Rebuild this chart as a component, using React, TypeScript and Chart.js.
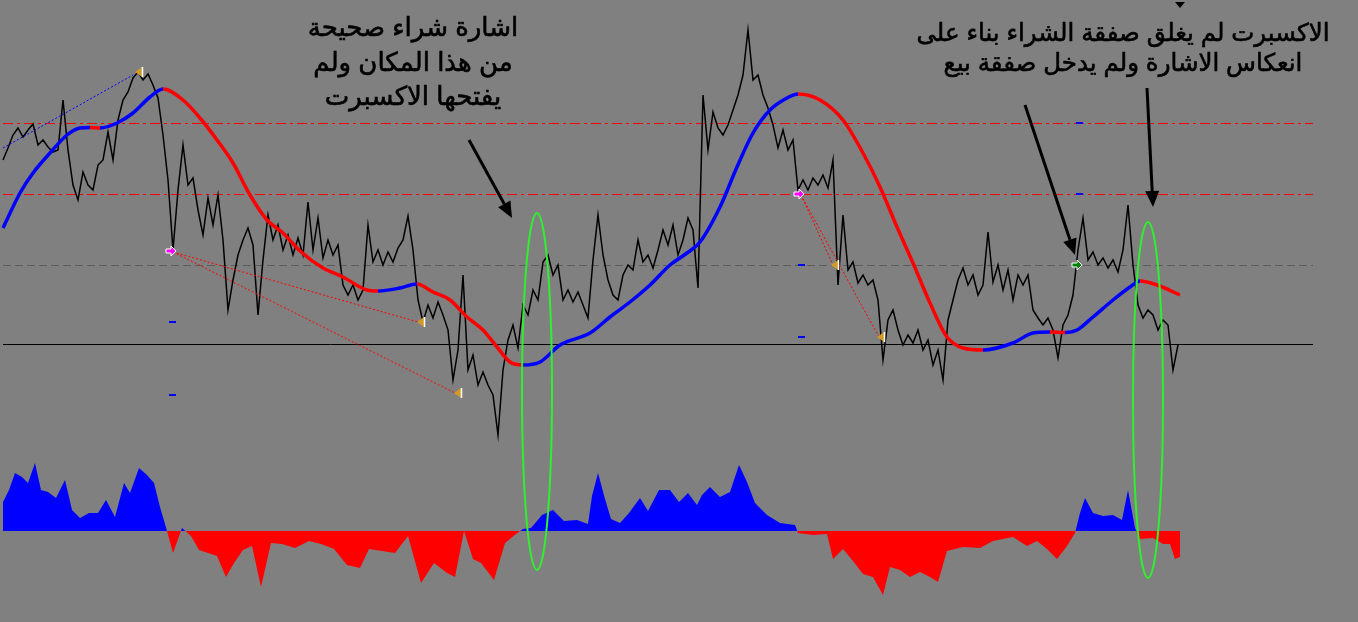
import React, { useEffect, useRef } from "react";
import { Chart, registerables } from "chart.js";

Chart.register(...registerables);

// ---------- data (bar number, price in points) ----------
const FIRST_BAR = 3;
const BAR_STEP = 5;

const closePrices = [
  840, 852, 865, 872, 863, 870, 876, 855, 860, 853, 848, 850, 900, 850, 815, 800, 828, 815, 810, 835,
  840, 868, 840, 880, 900, 908, 922, 928, 920, 926, 915, 902, 865, 820, 750, 810, 855, 815, 822, 790,
  765, 802, 775, 805, 760, 690, 720, 745, 760, 772, 755, 685, 740, 785, 760, 775, 750, 765, 745, 762,
  745, 798, 750, 782, 742, 760, 745, 755, 715, 705, 715, 700, 710, 775, 738, 750, 735, 748, 738, 752,
  760, 784, 750, 700, 678, 695, 682, 698, 685, 670, 620, 650, 725, 630, 645, 615, 628, 615, 605, 565,
  630, 660, 675, 652, 695, 685, 710, 700, 738, 745, 725, 735, 700, 710, 698, 708, 695, 682, 740, 785,
  745, 720, 705, 700, 725, 735, 730, 760, 738, 745, 732, 750, 770, 755, 775, 745, 760, 782, 770, 712,
  905, 850, 888, 872, 865, 875, 890, 905, 925, 970, 920, 925, 905, 892, 875, 852, 870, 850, 860, 810,
  820, 810, 822, 815, 825, 812, 840, 715, 785, 730, 738, 717, 725, 715, 720, 700, 640, 680, 690, 670,
  655, 665, 657, 670, 650, 660, 635, 650, 620, 680, 700, 720, 732, 715, 725, 705, 715, 768, 718, 735,
  710, 730, 700, 725, 715, 725, 690, 682, 675, 682, 670, 642, 675, 685, 705, 750, 782, 740, 748, 735,
  742, 732, 740, 728, 750, 795, 735, 695, 682, 690, 685, 670, 680, 675, 630, 655,
];

const maBars = [
  3, 20, 33, 50, 67, 80, 90, 100, 117, 133, 150, 163, 183, 200, 217, 233, 250, 267, 283, 300,
  323, 343, 367, 378, 400, 417, 433, 450, 467, 483, 497, 510, 523, 540, 560, 590, 610, 630, 650, 670,
  687, 700, 720, 737, 753, 770, 787, 798, 820, 843, 863, 880, 897, 913, 930, 947, 963, 983, 1013, 1033,
  1050, 1065, 1077, 1093, 1113, 1130, 1140, 1157, 1180,
];
const maValues = [
  772, 807, 827, 847, 865, 872, 872.5, 872, 877, 887, 903, 911, 900, 882, 860, 837, 805, 780, 767, 749,
  732, 723, 710, 709, 712, 716, 708, 700, 683, 670, 653, 638, 635, 638, 655, 667, 683, 698, 715, 735,
  747, 758, 793, 833, 867, 890, 902, 906, 900, 880, 847, 813, 773, 737, 697, 663, 652, 650, 657, 667,
  668, 667.5, 670, 683, 700, 713, 719, 715, 705,
];

const histBars = [
  3, 9, 15, 22, 28, 35, 41, 48, 56, 65, 72, 80, 89, 98, 106, 115, 124, 130, 139, 147,
  154, 160, 167, 173, 182, 191, 199, 208, 217, 226, 234, 243, 252, 261, 271, 282, 295, 309, 321, 334,
  347, 360, 369, 382, 395, 408, 421, 434, 447, 455, 464, 473, 481, 494, 505, 516, 523, 531, 542, 553,
  564, 577, 588, 592, 598, 605, 611, 620, 629, 640, 648, 659, 670, 679, 688, 697, 702, 710, 720, 730,
  739, 747, 755, 767, 780, 795, 798, 813, 827, 833, 843, 853, 863, 873, 883, 890, 900, 910, 920, 930,
  938, 947, 963, 980, 993, 1013, 1027, 1037, 1047, 1057, 1067, 1075, 1080, 1085, 1093, 1103, 1113, 1122, 1128, 1135,
  1140, 1153, 1163, 1170, 1175, 1180,
];
const histValues = [
  29, 41, 58, 54, 48, 68, 41, 39, 33, 51, 21, 13, 18, 18, 31, 14, 48, 38, 63, 56,
  48, 24, 0, -22, 3, -5, -19, -22, -25, -46, -32, -19, -15, -56, -12, -13, -17, -10, -13, -18,
  -34, -37, -18, -20, -22, -5, -52, -32, -42, -46, 0, -28, -32, -49, -12, -3, 2, 3, 16, 21,
  10, 11, 7, 35, 58, 32, 12, 8, 18, 33, 20, 41, 41, 29, 38, 26, 36, 44, 34, 39,
  66, 49, 28, 16, 8, 6, -2, -4, -3, -28, -18, -30, -43, -46, -64, -36, -39, -46, -41, -46,
  -51, -20, -16, -17, -10, -6, -15, -10, -18, -28, -15, -2, 18, 33, 18, 15, 16, 11, 41, 3,
  -8, -7, -13, -13, -28, -26,
];

const levelPrices = [876.5, 805.5, 734.5, 655.5];
const levelStyles = ["redDashDot", "redDashDot", "grayDash", "solid"];
const LEVEL_FROM_BAR = 3;
const LEVEL_TO_BAR = 1313;

// signals: [bar, price]
const exitSignals = [[139, 928], [421, 678], [458, 607], [835, 735], [881, 663]];
const sellEntries = [[171, 749], [799, 806]];
const buyEntries = [[1077, 735]];
const stopTicks = [[172, 678], [172, 605], [801, 735], [801, 663], [1079, 877], [1079, 806]];
const signalLinks = [
  { from: [3, 852], to: [133, 925], color: "#0000ff" },
  { from: [173, 748], to: [418, 678], color: "#ff0000" },
  { from: [173, 748], to: [455, 607], color: "#ff0000" },
  { from: [801, 805], to: [833, 735], color: "#ff0000" },
  { from: [801, 805], to: [879, 663], color: "#ff0000" },
];

// annotations (bar, price units)
const highlightZones = [
  { bar: 537, price: 608.5, halfBars: 15, halfPrice: 178.5 },
  { bar: 1148, price: 600, halfBars: 15, halfPrice: 178 },
];
const pointerArrows = [
  { from: [469, 860], to: [512, 782] },
  { from: [1025, 895], to: [1075, 745] },
  { from: [1147, 912], to: [1153, 793] },
];
const noteLeft = ["اشارة شراء صحيحة", "من هذا المكان ولم", "يفتحها الاكسبرت"];
const noteLeftAnchor = { bar: 413, prices: [964, 929, 895] };
const noteRight = ["الاكسبرت لم يغلق صفقة الشراء بناء على", "انعكاس الاشارة ولم يدخل صفقة بيع"];
const noteRightAnchor = { bar: 1123, prices: [959, 929] };
const shiftMarker = [1180, 995];

const BG = "#808080";

const backgroundPlugin = {
  id: "bg",
  beforeDraw(chart: any) {
    const { ctx, width, height } = chart;
    ctx.save();
    ctx.fillStyle = BG;
    ctx.fillRect(0, 0, width, height);
    ctx.restore();
  },
};

const annotationPlugin = {
  id: "mtAnnotations",
  afterDatasetsDraw(chart: any) {
    const { ctx } = chart;
    const xs = chart.scales.x;
    const ys = chart.scales.y;
    const px = (b: number) => xs.getPixelForValue(b);
    const py = (p: number) => ys.getPixelForValue(p);
    ctx.save();

    // dotted links
    ctx.lineWidth = 1;
    ctx.setLineDash([2, 2]);
    for (const l of signalLinks) {
      ctx.strokeStyle = l.color;
      ctx.beginPath();
      ctx.moveTo(px(l.from[0]), py(l.from[1]));
      ctx.lineTo(px(l.to[0]), py(l.to[1]));
      ctx.stroke();
    }
    ctx.setLineDash([]);

    // stop ticks
    ctx.fillStyle = "#0000ff";
    for (const [b, p] of stopTicks) {
      ctx.fillRect(Math.round(px(b) - 3), Math.round(py(p) - 1), 7, 2);
    }

    // exit triangles
    for (const [b, p] of exitSignals) {
      const cx = px(b), cy = py(p);
      ctx.fillStyle = "#d09a28";
      ctx.beginPath();
      ctx.moveTo(cx - 4, cy);
      ctx.lineTo(cx + 3, cy - 5);
      ctx.lineTo(cx + 3, cy + 5);
      ctx.closePath();
      ctx.fill();
      ctx.strokeStyle = "#ffffff";
      ctx.lineWidth = 1.5;
      ctx.beginPath();
      ctx.moveTo(cx + 3.5, cy - 5);
      ctx.lineTo(cx + 3.5, cy + 5);
      ctx.stroke();
    }

    const drawArrowMark = (cx: number, cy: number, fill: string) => {
      ctx.beginPath();
      ctx.moveTo(cx - 5, cy - 2);
      ctx.lineTo(cx, cy - 2);
      ctx.lineTo(cx, cy - 5);
      ctx.lineTo(cx + 5, cy);
      ctx.lineTo(cx, cy + 5);
      ctx.lineTo(cx, cy + 2);
      ctx.lineTo(cx - 5, cy + 2);
      ctx.closePath();
      ctx.fillStyle = fill;
      ctx.fill();
      ctx.strokeStyle = "#ffffff";
      ctx.lineWidth = 1;
      ctx.stroke();
    };
    for (const [b, p] of sellEntries) drawArrowMark(px(b), py(p), "#ff00ff");
    for (const [b, p] of buyEntries) drawArrowMark(px(b), py(p), "#008000");

    // ellipses
    ctx.strokeStyle = "#2ef02e";
    ctx.lineWidth = 2;
    for (const z of highlightZones) {
      const cx = px(z.bar), cy = py(z.price);
      const rx = Math.abs(px(z.bar + z.halfBars) - cx);
      const ry = Math.abs(py(z.price + z.halfPrice) - cy);
      ctx.beginPath();
      ctx.ellipse(cx, cy, rx, ry, 0, 0, Math.PI * 2);
      ctx.stroke();
    }

    // arrows
    ctx.strokeStyle = "#000000";
    ctx.fillStyle = "#000000";
    for (const a of pointerArrows) {
      const x0 = px(a.from[0]), y0 = py(a.from[1]);
      const x1 = px(a.to[0]), y1 = py(a.to[1]);
      const ang = Math.atan2(y1 - y0, x1 - x0);
      const headLen = 16, headW = 7;
      const bx = x1 - headLen * Math.cos(ang), by = y1 - headLen * Math.sin(ang);
      ctx.lineWidth = 3;
      ctx.beginPath();
      ctx.moveTo(x0, y0);
      ctx.lineTo(bx, by);
      ctx.stroke();
      ctx.beginPath();
      ctx.moveTo(x1, y1);
      ctx.lineTo(bx + headW * Math.sin(ang), by - headW * Math.cos(ang));
      ctx.lineTo(bx - headW * Math.sin(ang), by + headW * Math.cos(ang));
      ctx.closePath();
      ctx.fill();
    }

    // shift marker
    {
      const cx = px(shiftMarker[0]), cy = py(shiftMarker[1]);
      ctx.beginPath();
      ctx.moveTo(cx - 5, cy - 3);
      ctx.lineTo(cx + 5, cy - 3);
      ctx.lineTo(cx, cy + 3);
      ctx.closePath();
      ctx.fill();
    }

    // notes
    ctx.fillStyle = "#000000";
    ctx.strokeStyle = "#000000";
    ctx.lineWidth = 0.6;
    ctx.textAlign = "center";
    ctx.textBaseline = "alphabetic";
    ctx.direction = "rtl";
    ctx.font = '26px "Liberation Sans", "DejaVu Sans", sans-serif';
    noteLeft.forEach((t, i) => {
      ctx.fillText(t, px(noteLeftAnchor.bar), py(noteLeftAnchor.prices[i]));
      ctx.strokeText(t, px(noteLeftAnchor.bar), py(noteLeftAnchor.prices[i]));
    });
    ctx.font = '24.5px "Liberation Sans", "DejaVu Sans", sans-serif';
    noteRight.forEach((t, i) => {
      ctx.fillText(t, px(noteRightAnchor.bar), py(noteRightAnchor.prices[i]));
      ctx.strokeText(t, px(noteRightAnchor.bar), py(noteRightAnchor.prices[i]));
    });

    ctx.restore();
  },
};

export default function App() {
  const canvasRef = useRef<HTMLCanvasElement | null>(null);

  useEffect(() => {
    document.body.style.margin = "0";
    document.body.style.background = BG;
    const canvas = canvasRef.current;
    if (!canvas) return;

    const levelDatasets = levelPrices.map((lv, i) => {
      const style = levelStyles[i];
      return {
        label: "level " + lv,
        data: [
          { x: LEVEL_FROM_BAR, y: lv },
          { x: LEVEL_TO_BAR, y: lv },
        ],
        borderColor: style === "redDashDot" ? "#ff0000" : style === "grayDash" ? "#5c5c5c" : "#000000",
        borderWidth: 1,
        borderDash: style === "redDashDot" ? [10, 4, 3, 4] : style === "grayDash" ? [8, 4] : [],
        pointRadius: 0,
        yAxisID: "y",
        order: 2,
      };
    });

    const chart = new Chart(canvas, {
      type: "line",
      data: {
        datasets: [
          {
            label: "MA",
            data: maBars.map((b, i) => ({ x: b, y: maValues[i] })),
            borderWidth: 3.5,
            borderColor: "#0000ff",
            pointRadius: 0,
            cubicInterpolationMode: "monotone",
            segment: {
              borderColor: (c: any) => (c.p1.parsed.y >= c.p0.parsed.y ? "#0000ff" : "#ff0000"),
            },
            yAxisID: "y",
            order: 0,
          },
          {
            label: "Close",
            data: closePrices.map((p, i) => ({ x: FIRST_BAR + i * BAR_STEP, y: p })),
            borderColor: "#000000",
            borderWidth: 1.5,
            pointRadius: 0,
            tension: 0,
            yAxisID: "y",
            order: 1,
          },
          ...levelDatasets,
          {
            label: "Oscillator",
            data: histBars.map((b, i) => ({ x: b, y: histValues[i] })),
            borderColor: "rgba(0,0,0,0)",
            borderWidth: 0,
            pointRadius: 0,
            tension: 0,
            fill: { target: { value: 0 }, above: "#0000ff", below: "#ff0000" },
            yAxisID: "y2",
            order: 3,
          },
        ] as any,
      },
      options: {
        animation: false,
        responsive: false,
        maintainAspectRatio: false,
        events: [],
        layout: { padding: 0 },
        plugins: { legend: { display: false }, tooltip: { enabled: false } },
        scales: {
          x: { type: "linear", min: 0, max: 1358, display: false },
          y: { type: "linear", min: 378, max: 1000, display: false },
          y2: { type: "linear", min: -91, max: 531, display: false },
        },
      } as any,
      plugins: [backgroundPlugin, annotationPlugin],
    });
    return () => chart.destroy();
  }, []);

  return (
    <div style={{ width: 1358, height: 622, background: BG }}>
      <canvas ref={canvasRef} width={1358} height={622} style={{ display: "block" }} />
    </div>
  );
}
